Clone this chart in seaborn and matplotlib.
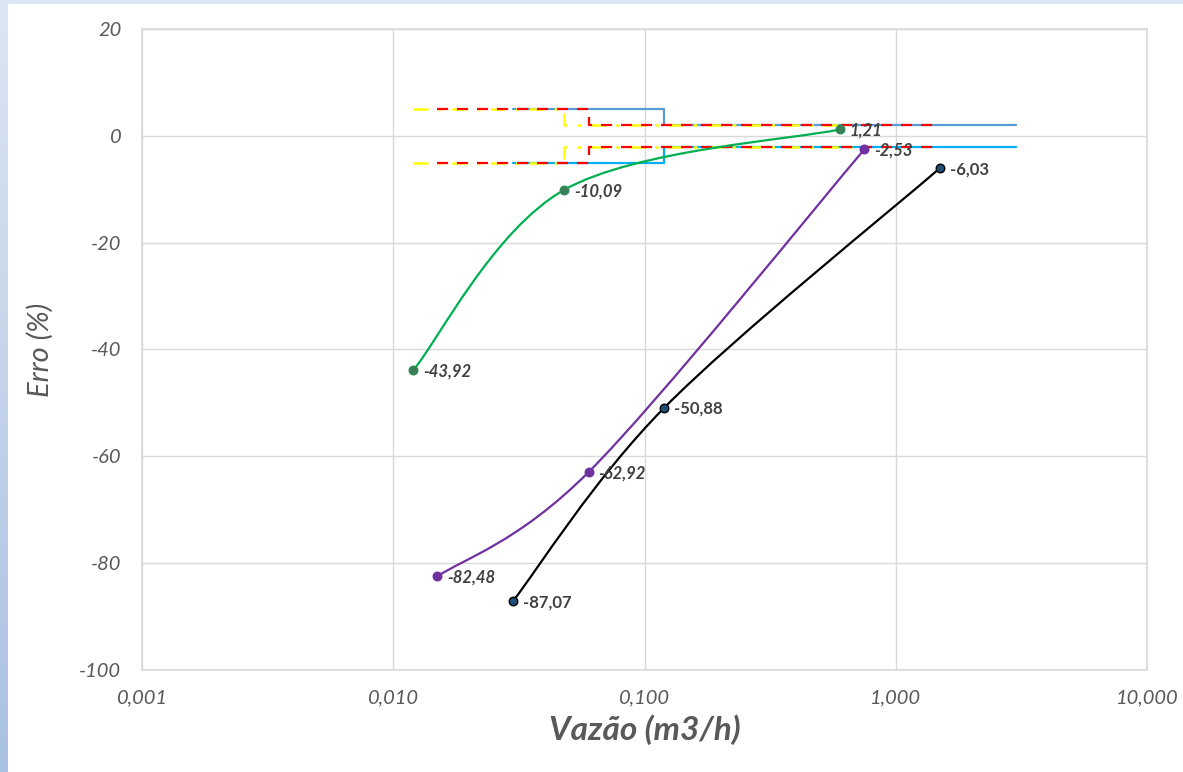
import numpy as np
import pandas as pd
import seaborn as sns
import matplotlib
matplotlib.use("Agg")
import matplotlib.pyplot as plt
from matplotlib.path import Path
from matplotlib.patches import PathPatch
from matplotlib.ticker import FixedLocator, FuncFormatter

# ---------------- data ----------------
green_x = [0.012, 0.048, 0.6]
green_y = [-43.92, -10.09, 1.21]
purple_x = [0.015, 0.06, 0.75]
purple_y = [-82.48, -62.92, -2.53]
black_x = [0.03, 0.12, 1.5]
black_y = [-87.07, -50.88, -6.03]

# limit step lines (x breakpoints, error limits)
blue_up_x = [0.03, 0.12, 3.0]
blue_up_y = [5, 2, 2]
blue_lo_x = [0.03, 0.12, 3.0]
blue_lo_y = [-5, -2, -2]
red_up_x = [0.015, 0.06, 1.5]
red_up_y = [5, 2, 2]
red_lo_x = [0.015, 0.06, 1.5]
red_lo_y = [-5, -2, -2]
yel_up_x = [0.012, 0.048, 0.6]
yel_up_y = [5, 2, 2]
yel_lo_x = [0.012, 0.048, 0.75]
yel_lo_y = [-5, -2, -2]

x_ticks = [0.001, 0.01, 0.1, 1, 10]
y_ticks = [20, 0, -20, -40, -60, -80, -100]

# ---------------- style ----------------
sns.set_theme(style="white")
plt.rcParams['font.family'] = ['Lato', 'DejaVu Sans']

fig = plt.figure(figsize=(11.83, 7.72), dpi=100)
fig.patch.set_facecolor('white')

# light blue frame strips (left and top)
bg = fig.add_axes([0, 0, 8 / 1183, 1])
grad = np.linspace(0, 1, 256).reshape(-1, 1)
bg.imshow(grad, aspect='auto', cmap=matplotlib.colors.LinearSegmentedColormap.from_list(
    'b', ['#A9C1E2', '#DCE6F3']), origin='lower', extent=[0, 1, 0, 1])
bg.axis('off')
top = fig.add_axes([0, 1 - 4 / 772, 1, 4 / 772])
top.set_facecolor('#DCE6F2')
top.set_xticks([]); top.set_yticks([])
for s in top.spines.values():
    s.set_visible(False)

ax = fig.add_axes([142 / 1183, 1 - 670 / 772, (1147 - 142) / 1183, (670 - 29) / 772])
ax.set_xscale('log')
ax.set_xlim(0.001, 10)
ax.set_ylim(-100, 20)

ax.grid(True, which='major', color='#D9D9D9', linewidth=1)
ax.set_axisbelow(True)
for s in ax.spines.values():
    s.set_color('#D9D9D9')
    s.set_linewidth(1.2)

# ---------------- step limit lines ----------------
def step(xs, ys, **kw):
    df = pd.DataFrame({'x': xs, 'y': ys})
    sns.lineplot(data=df, x='x', y='y', ax=ax, drawstyle='steps-post',
                 estimator=None, sort=False, legend=False, **kw)

step(blue_up_x, blue_up_y, color='#5B9BD5', linewidth=1.6, zorder=2)
step(blue_lo_x, blue_lo_y, color='#00B0F0', linewidth=1.6, zorder=2)
step(yel_up_x, yel_up_y, color='#FFFF00', linewidth=1.8, linestyle=(0, (6, 4, 1.5, 4)), zorder=3)
step(yel_lo_x, yel_lo_y, color='#FFFF00', linewidth=1.8, linestyle=(0, (6, 4, 1.5, 4)), zorder=3)
step(red_up_x, red_up_y, color='#FF0000', linewidth=1.6, linestyle=(0, (5, 4)), zorder=4)
step(red_lo_x, red_lo_y, color='#FF0000', linewidth=1.6, linestyle=(0, (5, 4)), zorder=4)

# ---------------- smoothed series (Excel-like Bezier) ----------------
PXD = 251.25  # px per decade
PXU = 5.34    # px per unit


def smooth_path(xs, ys):
    P = np.column_stack([np.log10(xs) * PXD, np.array(ys) * PXU])
    n = len(P)
    verts = [P[0]]
    codes = [Path.MOVETO]
    for i in range(n - 1):
        p0 = P[i - 1] if i > 0 else P[i]
        p1, p2 = P[i], P[i + 1]
        p3 = P[i + 2] if i + 2 < n else P[i + 1]
        c1 = p1 + (p2 - p0) / 6.0
        c2 = p2 - (p3 - p1) / 6.0
        verts += [c1, c2, p2]
        codes += [Path.CURVE4] * 3
    V = np.array(verts)
    V = np.column_stack([10 ** (V[:, 0] / PXD), V[:, 1] / PXU])
    return Path(V, codes)


def series(xs, ys, lc, mfc, mec, label_style, zorder):
    ax.add_patch(PathPatch(smooth_path(xs, ys), fill=False, edgecolor=lc,
                           linewidth=1.6, zorder=zorder))
    df = pd.DataFrame({'x': xs, 'y': ys})
    sns.scatterplot(data=df, x='x', y='y', ax=ax, s=38, color=mfc,
                    edgecolor=mec, linewidth=1.0, zorder=zorder + 1, legend=False)
    for x, y in zip(xs, ys):
        ax.annotate(f"{y:.2f}".replace('.', ','), (x, y), xytext=(7, -1),
                    textcoords='offset points', ha='left', va='center',
                    fontsize=12, fontweight='bold', fontstyle=label_style,
                    color='#404040', zorder=10)


series(green_x, green_y, '#00B050', '#3C7D5A', '#2E8B57', 'italic', 5)
series(purple_x, purple_y, '#7030A0', '#7030A0', '#7030A0', 'italic', 5)
series(black_x, black_y, '#000000', '#1F4E79', '#000000', 'normal', 5)

# ---------------- axes text ----------------
ax.xaxis.set_major_locator(FixedLocator(x_ticks))
ax.xaxis.set_minor_locator(FixedLocator([]))
ax.xaxis.set_major_formatter(FuncFormatter(lambda v, p: f"{v:.3f}".replace('.', ',')))
ax.yaxis.set_major_locator(FixedLocator(y_ticks))
ax.yaxis.set_major_formatter(FuncFormatter(lambda v, p: f"{int(round(v))}"))
ax.tick_params(axis='both', length=0, labelsize=14.5, labelcolor='#595959')
ax.tick_params(axis='x', pad=14)
ax.tick_params(axis='y', pad=15)
for lab in ax.get_xticklabels() + ax.get_yticklabels():
    lab.set_fontstyle('italic')

ax.set_xlabel('Vazão (m3/h)', fontsize=24, fontweight='bold', fontstyle='italic',
              color='#595959', labelpad=6)
ax.set_ylabel('Erro (%)', fontsize=21, fontstyle='italic', color='#595959', labelpad=18)

fig.savefig('out.png', dpi=100, facecolor='white')
